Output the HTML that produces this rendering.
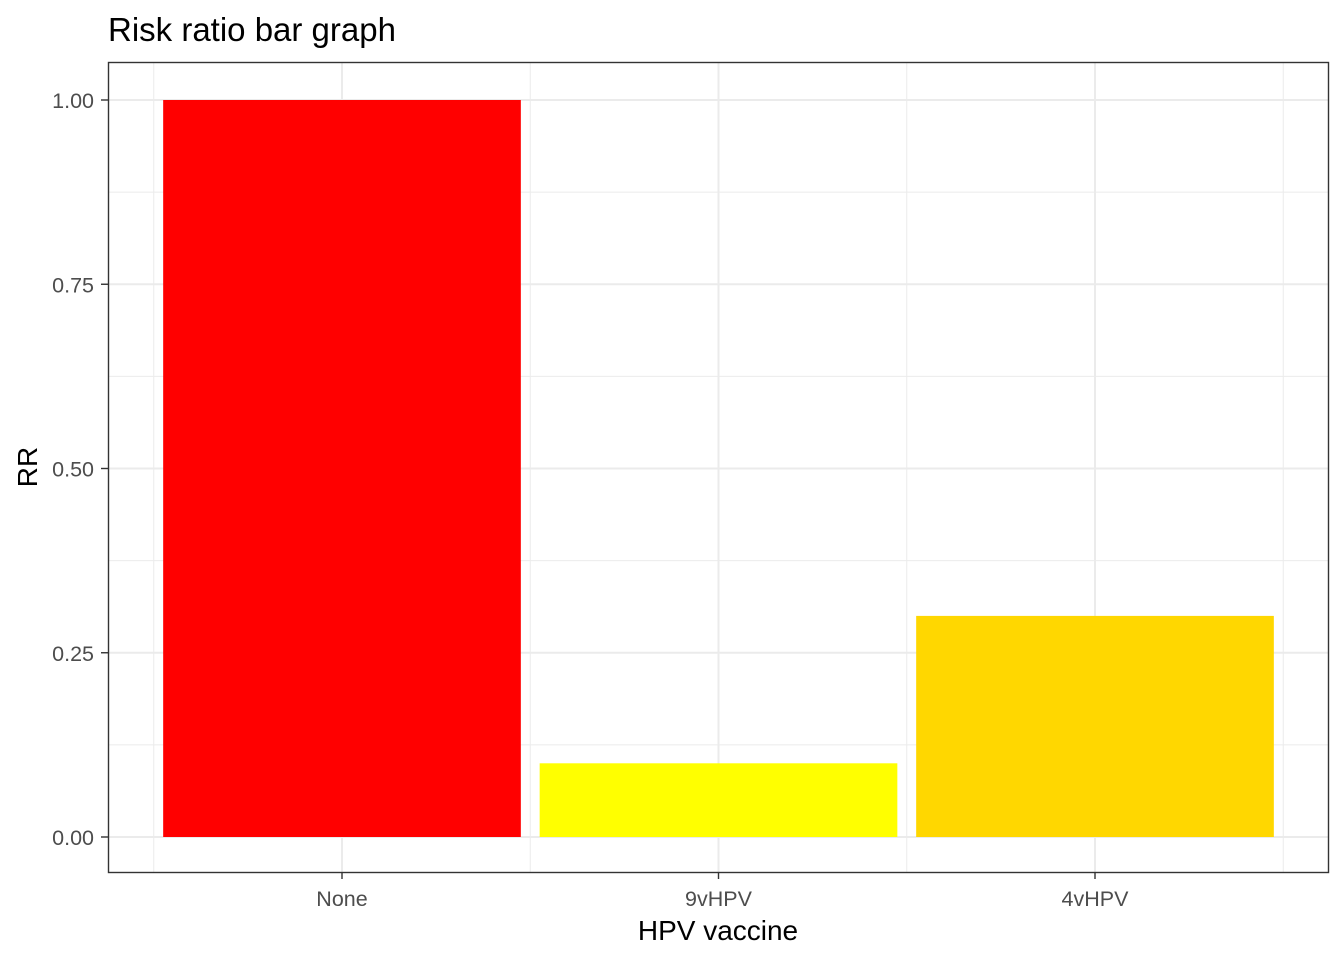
<!DOCTYPE html>
<html><head><meta charset="utf-8"><style>
body{margin:0;background:#fff;}
text{font-family:"Liberation Sans",Arial,sans-serif;}
</style></head><body>
<svg id="chart" width="1344" height="960">
<rect width="1344" height="960" fill="#fff"/>
<text x="108" y="41" font-size="33" fill="#000">Risk ratio bar graph</text>
<g id="grid"></g>
<g id="bars"></g>
<rect x="108.5" y="62.5" width="1220" height="810" fill="none" stroke="#333" stroke-width="1.4"/>
<g id="axes"></g>
<text x="718" y="940" font-size="28" text-anchor="middle" fill="#000">HPV vaccine</text>
<text transform="translate(37,467) rotate(-90)" font-size="28" text-anchor="middle" fill="#000">RR</text>
</svg>
<script>
const categories=["None","9vHPV","4vHPV"];
const rrValues=[1.0,0.1,0.3];
const barColors=["#FF0000","#FFFF00","#FFD700"];
const yTicks=[0,0.25,0.5,0.75,1.0];
const yTickLabels=["0.00","0.25","0.50","0.75","1.00"];
const NS="http://www.w3.org/2000/svg";
const y=v=>837-v*737;
const step=376.5;
const x=i=>342+i*step;
function mk(t,a,p){const e=document.createElementNS(NS,t);for(const k in a)e.setAttribute(k,a[k]);p.appendChild(e);return e;}
const grid=document.getElementById('grid'),bars=document.getElementById('bars'),axes=document.getElementById('axes');
for(let i=0;i<yTicks.length-1;i++){const v=(yTicks[i]+yTicks[i+1])/2;
const l=mk('line',{x1:108,x2:1329,y1:y(v),y2:y(v),stroke:'#ebebeb','stroke-width':1},grid);
}
for(let i=0;i<=categories.length;i++){const xv=x(i-0.5);
const l=mk('line',{x1:xv,x2:xv,y1:62,y2:872,stroke:'#ebebeb','stroke-width':1},grid);
}
yTicks.forEach((v,i)=>{const l=mk('line',{x1:108,x2:1329,y1:y(v),y2:y(v),stroke:'#ebebeb','stroke-width':2},grid);

const t=mk('line',{x1:101,x2:108,y1:y(v),y2:y(v),stroke:'#333','stroke-width':1.4},axes);

const tx=mk('text',{x:94,y:y(v)+8,'font-size':21.5,'text-anchor':'end',fill:'#4d4d4d'},axes);tx.textContent=yTickLabels[i];
});
categories.forEach((c,i)=>{const l=mk('line',{x1:x(i),x2:x(i),y1:62,y2:872,stroke:'#ebebeb','stroke-width':2},grid);

const w=step*0.95;
const b=mk('rect',{x:x(i)-w/2,y:y(rrValues[i]),width:w,height:y(0)-y(rrValues[i]),fill:barColors[i]},bars);

const t=mk('line',{x1:x(i),x2:x(i),y1:872,y2:879,stroke:'#333','stroke-width':1.4},axes);

const tx=mk('text',{x:x(i),y:906,'font-size':21.5,'text-anchor':'middle',fill:'#4d4d4d'},axes);tx.textContent=c;
});
</script>
</body></html>
